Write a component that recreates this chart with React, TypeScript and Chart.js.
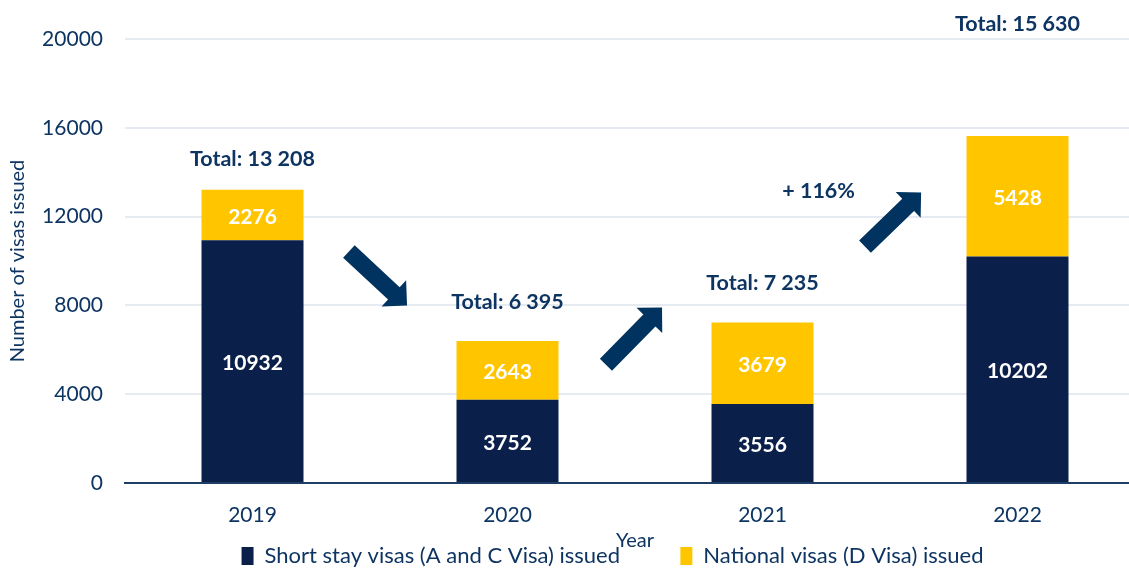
import React, { useEffect, useRef } from "react";
import { Chart, registerables } from "chart.js";

Chart.register(...registerables);

const years = ["2019", "2020", "2021", "2022"];
const shortStay = [10932, 3752, 3556, 10202];
const national = [2276, 2643, 3679, 5428];
const yTicks = [0, 4000, 8000, 12000, 16000, 20000];
const totalLabels = ["Total: 13 208", "Total: 6 395", "Total: 7 235", "Total: 15 630"];
// y value (data units) where each total label is centred
const totalLabelY = [14580, 8170, 8985, 20680];
// arrows: [tailCat, tailValue, tipCat, tipValue]
const arrows: number[][] = [
  [0.378, 10430, 0.606, 7990],
  [1.386, 5330, 1.606, 7900],
  [2.402, 10650, 2.622, 13090],
];
const changeNote = { text: "+ 116%", cat: 2.22, value: 13140 };

const NAVY = "#0B1F4B";
const YELLOW = "#FFC600";
const TEXT = "#0E3562";
const ARROW = "#00335F";
const FONT = "Lato, 'Open Sans', sans-serif";

const annotPlugin = {
  id: "annot",
  beforeInit(chart: any) {
    const lg = chart.legend;
    if (lg) {
      const fit = lg.fit;
      lg.fit = function () {
        fit.call(this);
        this.height = 28;
      };
      const draw = lg.draw;
      lg.draw = function () {
        const sh = 40;
        this.left += sh;
        this.right += sh;
        draw.call(this);
        this.left -= sh;
        this.right -= sh;
      };
    }
  },
  afterDatasetsDraw(chart: any) {
    const ctx = chart.ctx;
    const xs = chart.scales.x;
    const ys = chart.scales.y;
    ctx.save();
    ctx.font = `bold 21px ${FONT}`;
    ctx.fillStyle = "#FFFFFF";
    ctx.textAlign = "center";
    ctx.textBaseline = "middle";
    chart.data.datasets.forEach((ds: any, di: number) => {
      const meta = chart.getDatasetMeta(di);
      meta.data.forEach((bar: any, i: number) => {
        const v = ds.data[i];
        const { y, base } = bar.getProps(["y", "base"], true);
        ctx.fillText(String(v), bar.x, (y + base) / 2 + 2);
      });
    });
    ctx.font = `bold 21.5px ${FONT}`;
    ctx.fillStyle = TEXT;
    totalLabels.forEach((t, i) => {
      ctx.fillText(t, xs.getPixelForValue(i), ys.getPixelForValue(totalLabelY[i]));
    });
    ctx.fillText(changeNote.text, xs.getPixelForValue(changeNote.cat), ys.getPixelForValue(changeNote.value));
    ctx.fillStyle = ARROW;
    arrows.forEach(([c0, v0, c1, v1]) => {
      const x0 = xs.getPixelForValue(c0), y0 = ys.getPixelForValue(v0);
      const x1 = xs.getPixelForValue(c1), y1 = ys.getPixelForValue(v1);
      const dx = x1 - x0, dy = y1 - y0;
      const len = Math.hypot(dx, dy);
      const ux = dx / len, uy = dy / len;
      const nx = -uy, ny = ux;
      const hl = 18, hw = 18, sw = 8.5;
      const bx = x1 - ux * hl, by = y1 - uy * hl;
      ctx.beginPath();
      ctx.moveTo(x0 + nx * sw, y0 + ny * sw);
      ctx.lineTo(bx + nx * sw, by + ny * sw);
      ctx.lineTo(bx + nx * hw, by + ny * hw);
      ctx.lineTo(x1, y1);
      ctx.lineTo(bx - nx * hw, by - ny * hw);
      ctx.lineTo(bx - nx * sw, by - ny * sw);
      ctx.lineTo(x0 - nx * sw, y0 - ny * sw);
      ctx.closePath();
      ctx.fill();
    });
    ctx.restore();
  },
};

export default function App() {
  const ref = useRef<HTMLCanvasElement>(null);
  useEffect(() => {
    if (!ref.current) return;
    const chart = new Chart(ref.current, {
      type: "bar",
      data: {
        labels: years,
        datasets: [
          { label: "Short stay visas (A and C Visa) issued", data: shortStay, backgroundColor: NAVY, categoryPercentage: 0.4, barPercentage: 1 },
          { label: "National visas (D Visa) issued", data: national, backgroundColor: YELLOW, categoryPercentage: 0.4, barPercentage: 1 },
        ],
      },
      options: {
        responsive: true,
        maintainAspectRatio: false,
        animation: false,
        layout: { padding: { top: 39, right: 0, left: 0, bottom: 0 } },
        scales: {
          x: {
            stacked: true,
            grid: { display: false, drawTicks: false },
            border: { color: "#1F3E66", width: 2 },
            ticks: { color: TEXT, font: { family: FONT, size: 21 }, padding: 20 },
            title: { display: true, text: "Year", color: TEXT, font: { family: FONT, size: 20 }, padding: { top: 0, bottom: -12 } },
            afterFit: (s: any) => { s.height = 58; },
          },
          y: {
            stacked: true,
            min: 0,
            max: 20000,
            afterBuildTicks: (s: any) => { s.ticks = yTicks.map((v) => ({ value: v })); },
            ticks: { color: TEXT, font: { family: FONT, size: 21 }, padding: 22, callback: (v: any) => String(v) },
            grid: { color: "#E6EBF2", lineWidth: 2, drawTicks: false },
            border: { display: false },
            title: { display: true, text: "Number of visas issued", color: TEXT, font: { family: FONT, size: 20 }, padding: { top: 6, bottom: 0 } },
            afterFit: (s: any) => { s.width = 125; },
          },
        },
        plugins: {
          legend: {
            position: "bottom",
            labels: {
              color: TEXT,
              font: { family: FONT, size: 22 },
              boxWidth: 12,
              boxHeight: 18,
              padding: 4,
              generateLabels: (c: any) => {
                const items = Chart.defaults.plugins.legend.labels.generateLabels(c);
                items.forEach((it: any, i: number) => {
                  it.lineWidth = 0;
                  if (i === 0) it.text = it.text + "          ";
                });
                return items;
              },
            },
          },
          tooltip: { enabled: false },
        },
      },
      plugins: [annotPlugin],
    });
    return () => chart.destroy();
  }, []);
  return (
    <div style={{ position: "fixed", left: 0, top: 0, width: 1129, height: 569, overflow: "hidden", background: "#fff" }}>
      <div style={{ position: "relative", width: 1145, height: 569 }}>
        <canvas ref={ref} />
      </div>
    </div>
  );
}
